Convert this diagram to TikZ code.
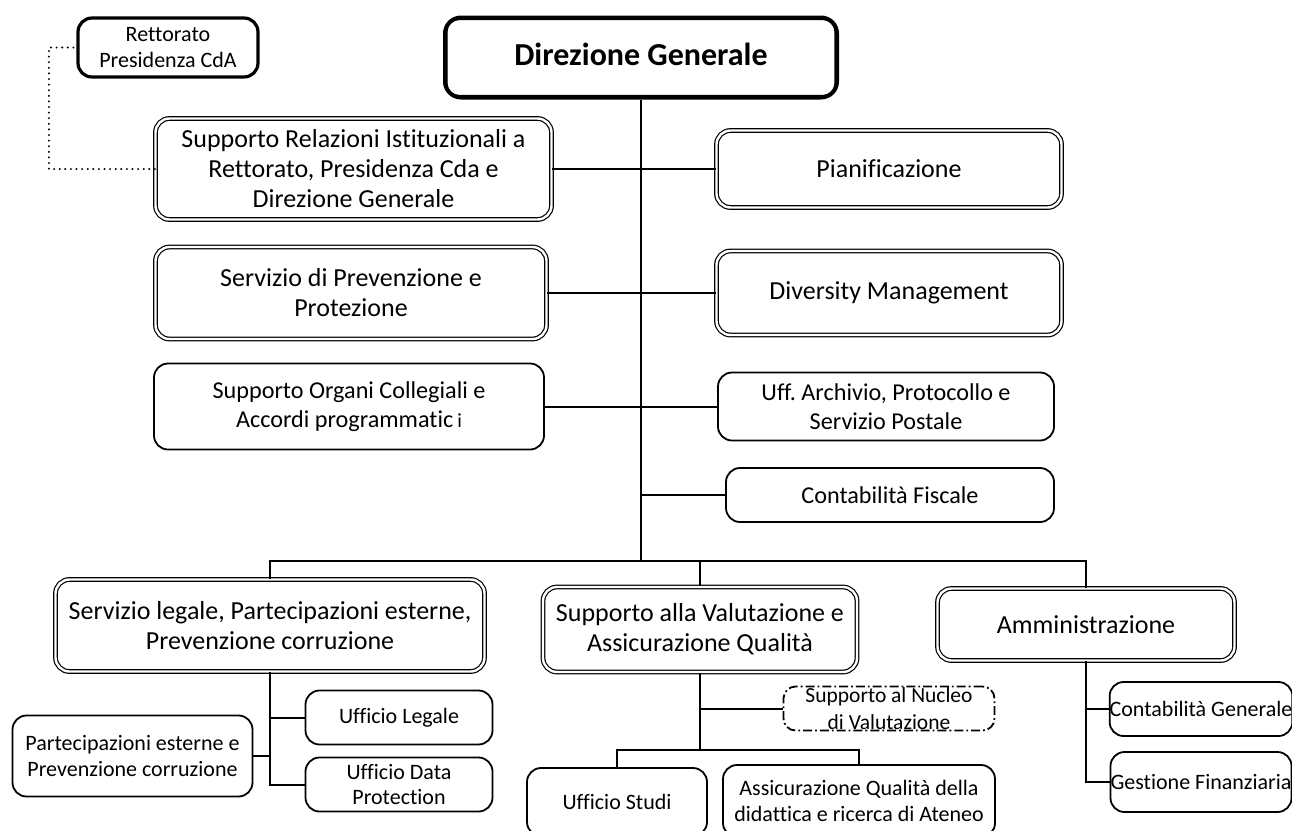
\documentclass[tikz,border=0pt]{standalone}
\usepackage{fontspec}
\setmainfont[Ligatures=NoCommon]{Carlito}
\tikzset{
  box/.style={draw, rounded corners=14pt, line width=1.8pt, align=center, inner sep=0pt},
  dbl/.style={draw, rounded corners=14pt, line width=1.2pt, double, double distance=2.4pt, align=center, inner sep=0pt},
  sz/.style 2 args={minimum width=#1, minimum height=#2},
  big/.style={font=\fontsize{26}{30}\selectfont},
  mid/.style={font=\fontsize{24.2}{28.5}\selectfont},
  small/.style={font=\fontsize{22}{25.8}\selectfont},
  conn/.style={line width=2pt},
  dots/.style={line width=2.2pt, dash pattern=on 0pt off 5.6pt, line cap=round},
}
\begin{document}
\begin{tikzpicture}[x=1pt,y=-1pt]
\useasboundingbox (0,0) rectangle (1292,830);

% top
\node[box, line width=3.2pt, sz={180}{59}, small] (rett) at (168,47.5) {Rettorato\\Presidenza CdA};
\node[draw, rounded corners=16pt, line width=4pt, sz={392}{80}, inner sep=0pt,
      font=\bfseries\fontsize{32}{36}\selectfont] (dg) at (641,57.5) {\raisebox{7pt}{Direzione Generale}};
\draw[line width=1.2pt, rounded corners=12pt] ([shift={(4pt,-4pt)}]dg.north west) rectangle ([shift={(-4pt,4pt)}]dg.south east);

% staff boxes
\node[dbl, sz={396}{101}, big] (sri) at (353.5,169) {Supporto Relazioni Istituzionali a\\Rettorato, Presidenza Cda e\\Direzione Generale};
\node[dbl, sz={345}{77}, big] (pian) at (889,169) {Pianificazione};
\node[dbl, sz={391}{92}, big] (sprev) at (351,293) {Servizio di Prevenzione e\\Protezione};
\node[dbl, sz={345}{84}, big] (div) at (889,293) {Diversity Management};
\node[box, sz={390}{86}, mid] (org) at (349,406.5) {Supporto Organi Collegiali e\\Accordi programmatic\,{\fontsize{20}{20}\selectfont i}};
\node[box, sz={336}{68}, mid] (arch) at (886,406.5) {Uff.\ Archivio, Protocollo e\\Servizio Postale};
\node[box, sz={328}{54}, mid] (cfisc) at (890,495) {Contabilità Fiscale};

\coordinate (j) at (641,561);
\coordinate (bl) at (270,561);
\coordinate (br) at (1086,561);

\draw[conn] (dg.south) -- (j);
\draw[conn] (sri.east) -- (pian.west);
\draw[conn] (sprev.east) -- (div.west);
\draw[conn] (org.east) -- (arch.west);
\draw[conn] (cfisc.west) -- (cfisc.west -| dg.south);
\draw[dots] (sri.west) -- ++(-106,0) |- (rett.west);

% second level
\node[dbl, sz={429}{92}, big] (servleg) at (270,625.5) {Servizio legale, Partecipazioni esterne,\\Prevenzione corruzione};
\node[dbl, sz={314}{85}, big] (sva) at (700,629.5) {Supporto alla Valutazione e\\Assicurazione Qualità};
\node[dbl, sz={297}{72}, big] (amm) at (1086,624.5) {Amministrazione};

\draw[conn] (servleg.north) -- (bl) -- (br) -- (amm.north);
\draw[conn] (sva.north) -- (sva.north |- bl);

% legal subtree
\node[box, sz={187}{54}, small] (uleg) at (399,717.5) {Ufficio Legale};
\node[box, sz={187}{54}, small] (udp) at (399,784.5) {Ufficio Data\\Protection};
\node[box, sz={240}{81}, small] (part) at (132.5,756) {Partecipazioni esterne e\\Prevenzione corruzione};
\draw[conn] (servleg.south) |- (udp.west);
\draw[conn] (uleg.west) -- (uleg.west -| servleg.south);
\draw[conn] (part.east) -- (part.east -| servleg.south);

% valutazione subtree
\node[draw, rounded corners=12pt, line width=1.8pt, dash pattern=on 9pt off 3pt on 1.8pt off 3pt,
      sz={211}{44}, inner sep=0pt] (nuc) at (889,708.5) {};
\node[font=\fontsize{21.5}{27}\selectfont, align=center, inner sep=0pt] (nuct) at (nuc.center) {Supporto al Nucleo\\di Valutazione};
\node[box, sz={180}{68}, small] (ustudi) at (617,802) {Ufficio Studi};
\node[box, sz={272}{72}, small] (aq) at (859,801) {Assicurazione Qualità della\\didattica e ricerca di Ateneo};
\coordinate (sj) at (700,750);
\draw[conn] (sva.south) -- (sj);
\draw[conn] (nuc.west) -- (nuc.west -| sva.south);
\draw[conn] (ustudi.north) -- (ustudi.north |- sj) -- (aq.north |- sj) -- (aq.north);

% amministrazione subtree
\node[box, sz={180}{54}, small] (cgen) at (1201,709) {Contabilità Generale};
\node[box, sz={180}{60}, small] (gfin) at (1201,782) {Gestione Finanziaria};
\draw[conn] (amm.south) |- (gfin.west);
\draw[conn] (cgen.west) -- (cgen.west -| amm.south);
\end{tikzpicture}
\end{document}
